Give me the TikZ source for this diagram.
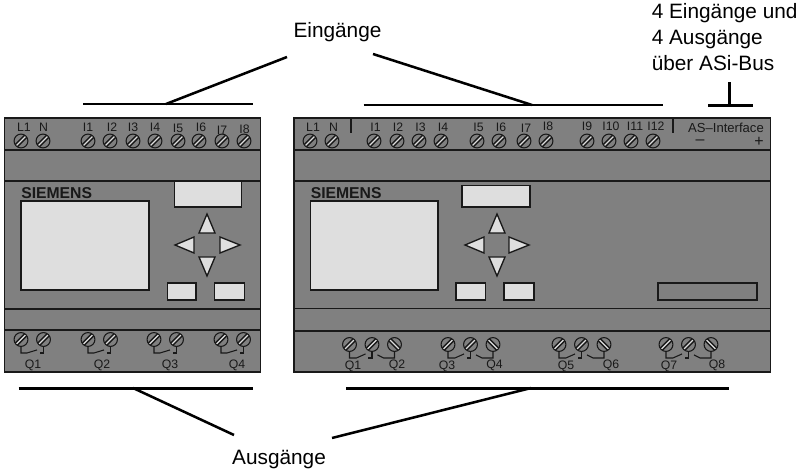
\documentclass[tikz,border=0pt]{standalone}
\usepackage{fontspec}
\setmainfont{Liberation Sans}
\definecolor{housing}{HTML}{808080}
\definecolor{panel}{HTML}{DEDEDE}
\begin{document}
\begin{tikzpicture}[
      x=0.75pt, y=-0.75pt,
      body/.style={draw=black!90, line width=1pt, fill=housing},
      rim/.style={draw=black!90, line width=1pt},
      key/.style={draw=black!90, line width=1pt, fill=panel},
      bar/.style={draw=black, line width=1.9pt},
      wire/.style={draw=black!90, line width=0.8pt},
      big/.style={inner sep=0pt, font=\fontsize{15.6}{18}\selectfont},
      small/.style={inner sep=0pt, text=black!90, font=\fontsize{9.2}{11}\selectfont},
      brand/.style={inner sep=0pt, text=black!90, font=\fontsize{11.8}{14}\bfseries\selectfont},
      screw/.style={circle, draw=black!90, line width=0.8pt, fill=housing, inner sep=0pt, minimum size=10.4pt,
        path picture={
          \draw[black!90, line width=3.2pt] (path picture bounding box.south west) -- (path picture bounding box.north east);
          \draw[panel, line width=1pt] (path picture bounding box.south west) -- (path picture bounding box.north east);}},
      backscrew/.style={circle, draw=black!90, line width=0.8pt, fill=housing, inner sep=0pt, minimum size=10.4pt,
        path picture={
          \draw[black!90, line width=3.2pt] (path picture bounding box.north west) -- (path picture bounding box.south east);
          \draw[panel, line width=1pt] (path picture bounding box.north west) -- (path picture bounding box.south east);}}]
    \useasboundingbox (0,0) rectangle (799,470);

    %% left module
    \draw[body] (4.5,118) rectangle (260.5,372);
    \draw[rim] (4.5,150) -- (260.5,150);
    \draw[rim] (4.5,181) -- (260.5,181);
    \draw[rim] (4.5,309) -- (260.5,309);
    \draw[rim] (4.5,330) -- (260.5,330);
    \node[brand, anchor=west] (brandA) at (21,193) {SIEMENS};
    \draw[key] (21,201) rectangle (149,290); % display
    \draw[key] (174.5,181) rectangle (241.5,207);
    \draw[key] (207,214) -- (215,233) -- (199,233) -- cycle;
    \draw[key] (175,245) -- (194,237) -- (194,253) -- cycle;
    \draw[key] (240,245) -- (220,237) -- (220,253) -- cycle;
    \draw[key] (207,276) -- (199,257) -- (215,257) -- cycle;
    \draw[key] (167.5,283) rectangle (196,300);
    \draw[key] (214.5,283) rectangle (244.5,300);
    \foreach \name/\tx/\lx/\ly in {L1/21/24/127.5, N/43/43.5/127.5, I1/88/88/127, I2/110/112/127, I3/133/133/127,
        I4/155/155/127, I5/178/178/128, I6/199/201/127, I7/222/222/130, I8/244/244.5/129} {
      \node[screw] (a\name) at (\tx,141) {};
      \node[small] (at\name) at (\lx,\ly) {\name};
    }
    \foreach \name/\tx/\lx in {1/21/33, 2/88/102, 3/154/170, 4/221/237} {
      \node[screw] (qa\name) at (\tx,339.5) {};
      \node[screw] (qb\name) at ({\tx+22.5},339.5) {};
      \node[small] (qt\name) at (\lx,365) {Q\name};
      \draw[wire] (qa\name.south) -- ++(0,6) -- ++(6,0) -- ++(10,-3);
      \draw[wire] (qb\name.south) -- ++(0,6) -- ++(-4,0);
    }

    %% right module
    \draw[body] (294,118) rectangle (770.5,372);
    \draw[rim] (294,150) -- (770.5,150);
    \draw[rim] (294,181) -- (770.5,181);
    \draw[rim] (294,308.5) -- (770.5,308.5);
    \draw[rim] (294,331) -- (770.5,331);
    \draw[rim] (351,118) -- (351,133);
    \draw[rim] (673,118) -- (673,133);
    \node[brand, anchor=west] (brandB) at (310.5,193) {SIEMENS};
    \draw[key] (310.5,201) rectangle (438,290); % display
    \draw[key] (462,185.5) rectangle (530,207);
    \draw[key] (497,214) -- (505,233) -- (489,233) -- cycle;
    \draw[key] (465,245) -- (484,237) -- (484,253) -- cycle;
    \draw[key] (529,245) -- (509,237) -- (509,253) -- cycle;
    \draw[key] (497,276) -- (489,257) -- (505,257) -- cycle;
    \draw[key] (456,283) rectangle (485.5,300);
    \draw[key] (504,283) rectangle (534,300);
    \draw[rim] (658,283) rectangle (757,300); % slot
    \foreach \name/\tx/\lx/\ly in {L1/310/313/127, N/332/333.5/127, I1/374/375.5/127, I2/397/398/127, I3/419/420.5/127,
        I4/441/443/127, I5/477/478.5/127, I6/499/501/127, I7/524/526/128, I8/546/548/126,
        I9/587/587/126, I10/609/611/126, I11/631/635/126, I12/653/656/126} {
      \node[screw] (b\name) at (\tx,141) {};
      \node[small] (bt\name) at (\lx,\ly) {\name};
    }
    \node[small, font=\fontsize{9.8}{12}\selectfont] (asi) at (726,127.5) {AS--Interface};
    \node[small, font=\fontsize{12}{14}\selectfont] (asiminus) at (700,142) {--};
    \node[small, font=\fontsize{12}{14}\selectfont] (asiplus) at (759,142) {+};
    \foreach \first/\second/\tx/\lxa/\lxb in {1/2/349.5/353/397, 3/4/448/447/494.5, 5/6/559/566/611, 7/8/666/669/717} {
      \node[screw] (qc\first) at (\tx,344.5) {};
      \node[screw] (qd\first) at ({\tx+22.5},344.5) {};
      \node[backscrew] (qe\first) at ({\tx+45},344.5) {};
      \node[small] (qu\first) at (\lxa,366.5) {Q\first};
      \node[small] (qu\second) at (\lxb,365.5) {Q\second};
      \draw[wire] (qc\first.south) -- ++(0,6) -- ++(7,0) -- ++(9,-4);
      \draw[wire] (qd\first.south) -- ++(0,6) -- ++(-4,0);
      \draw[wire] (qe\first.south) -- ++(0,6) -- ++(-11,0) -- ++(-6,-3);
    }

    %% labels and leaders
    \node[big, anchor=base] (eingaenge) at (337.5,38) {Eingänge};
    \node[big, anchor=base] (ausgaenge) at (279,464) {Ausgänge};
    \node[big, anchor=base west] (extraA) at (651.5,19) {4 Eingänge und};
    \node[big, anchor=base west] (extraB) at (651.5,45) {4 Ausgänge};
    \node[big, anchor=base west] (extraC) at (651.5,71) {über ASi-Bus};
    \coordinate (inA) at (166,104);
    \coordinate (inAend) at (287,57);
    \coordinate (inB) at (532,105);
    \coordinate (inBend) at (373,54);
    \coordinate (inC) at (729.5,105.5);
    \coordinate (inCend) at (729.5,82);
    \coordinate (outA) at (133,388);
    \coordinate (outAend) at (234,435);
    \coordinate (outB) at (531,388);
    \coordinate (outBend) at (332,438);
    \draw[bar] (83,104) -- (252.5,104);
    \draw[bar] (363.5,105) -- (663,105);
    \draw[bar] (708,105.5) -- (753,105.5);
    \draw[bar] (18.5,388.5) -- (253,388.5);
    \draw[bar] (346,388.5) -- (729,388.5);
    \draw[bar] (inA) -- (inAend);
    \draw[bar] (inB) -- (inBend);
    \draw[bar] (inC) -- (inCend);
    \draw[bar] (outA) -- (outAend);
    \draw[bar] (outB) -- (outBend);
\end{tikzpicture}
\end{document}
